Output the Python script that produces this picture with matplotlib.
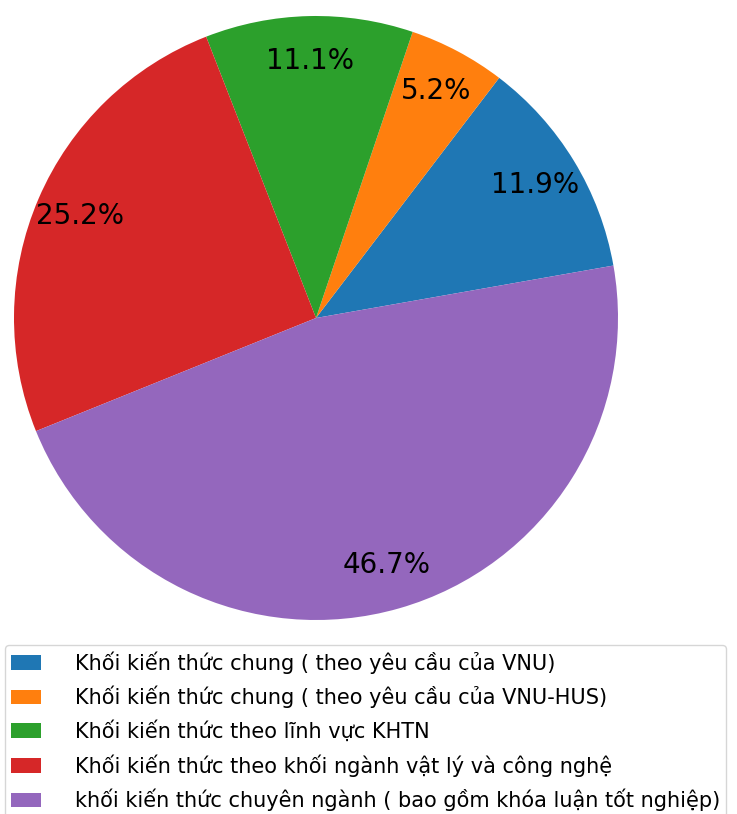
import matplotlib
matplotlib.use('Agg')
import matplotlib.pyplot as plt

# credits per block (percentages shown on chart)
labels = [
    "Khối kiến thức chung ( theo yêu cầu của VNU)",
    "Khối kiến thức chung ( theo yêu cầu của VNU-HUS)",
    "Khối kiến thức theo lĩnh vực KHTN",
    "Khối kiến thức theo khối ngành vật lý và công nghệ",
    "khối kiến thức chuyên ngành ( bao gồm khóa luận tốt nghiệp)",
]
credits = [16, 7, 15, 34, 63]

W, H = 737, 814
fig = plt.figure(figsize=(W / 100, H / 100), dpi=100)

cx, cy, r = 316, 318, 302
ax = fig.add_axes([(cx - r) / W, (H - cy - r) / H, 2 * r / W, 2 * r / H])
wedges, texts, autotexts = ax.pie(credits, autopct='%1.1f%%', startangle=10,
                                  pctdistance=0.85, radius=1.0,
                                  textprops={'fontsize': 20})
ax.set_xlim(-1, 1)
ax.set_ylim(-1, 1)
ax.set_aspect('equal')

fig.legend(wedges, labels, loc='upper left', bbox_to_anchor=(5 / W, 1 - 645 / H),
           fontsize=15, frameon=True, borderaxespad=0, labelspacing=0.58,
           handlelength=1.45, handletextpad=1.6, borderpad=0.3)

fig.savefig('out.png', dpi=100)
